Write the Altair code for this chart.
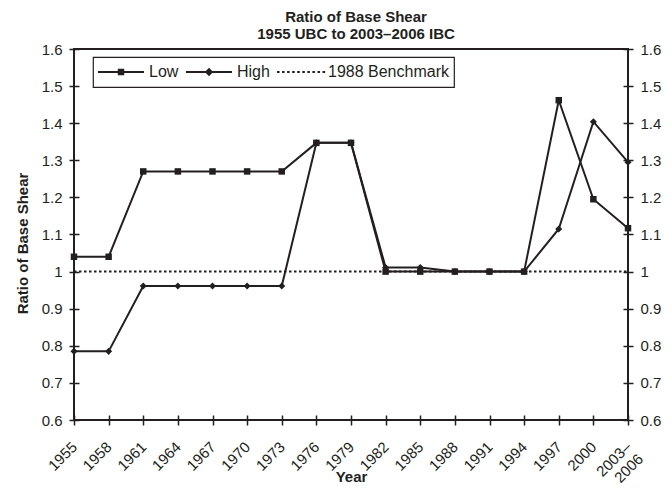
import altair as alt
import pandas as pd

# ---- data ----
years = ["1955", "1958", "1961", "1964", "1967", "1970", "1973", "1976", "1979",
         "1982", "1985", "1988", "1991", "1994", "1997", "2000", "2003–2006"]
low = [1.04, 1.04, 1.27, 1.27, 1.27, 1.27, 1.27, 1.347, 1.347,
       1.0, 1.0, 1.0, 1.0, 1.0, 1.462, 1.195, 1.117]
high = [0.785, 0.785, 0.961, 0.961, 0.961, 0.961, 0.961, 1.347, 1.347,
        1.011, 1.011, 1.0, 1.0, 1.0, 1.115, 1.404, 1.295]
benchmark = [1.0, 1.0, 1.0, 1.0, 1.0, 1.0, 1.0, 1.0, 1.0,
             1.0, 1.0, 1.0, 1.0, 1.0, 1.0, 1.0, 1.0]
series_names = ["Low", "High", "1988 Benchmark"]
y_ticks = [0.6, 0.7, 0.8, 0.9, 1.0, 1.1, 1.2, 1.3, 1.4, 1.5, 1.6]
title_lines = ["Ratio of Base Shear", "1955 UBC to 2003–2006 IBC"]

rows = []
for name, vals in zip(series_names, [low, high, benchmark]):
    for yr, v in zip(years, vals):
        rows.append({"Year": yr, "Series": name, "Ratio": v})
df = pd.DataFrame(rows)
df_low = df[df.Series == "Low"]
df_high = df[df.Series == "High"]
df_bench = df[df.Series == "1988 Benchmark"]

INK = "#231f20"
FONT = "Liberation Sans"

x_enc = alt.X(
    "Year:O",
    sort=years,
    scale=alt.Scale(type="point", padding=0),
    axis=alt.Axis(
        title="Year",
        labelAngle=-45,
        labelAlign="right",
        labelBaseline="middle",
        labelPadding=19,
        labelFontSize=15,
        labelExpr="datum.value == '2003–2006' ? ['2003–', '2006'] : datum.value",
        labelLineHeight=17,
        tickSize=10,
        offset=-5,
        titleFontSize=15,
        titleFontWeight="bold",
        titleBaseline="alphabetic",
        titleY=66,
    ),
)

y_scale = alt.Scale(domain=[0.6, 1.6], nice=False, zero=False)

left_axis = alt.Axis(
    orient="left",
    values=y_ticks,
    format=".1~f",
    tickSize=10,
    offset=-5,
    labelPadding=7,
    labelFontSize=15,
    title="Ratio of Base Shear",
    titleFontSize=15,
    titleFontWeight="bold",
    titlePadding=11,
    titleY=194,
)
right_axis = alt.Axis(
    orient="right",
    values=y_ticks,
    format=".1~f",
    tickSize=10,
    offset=-5,
    labelPadding=7,
    labelFontSize=15,
    title=None,
)

bench_layer = alt.Chart(df_bench).mark_line(
    color=INK, strokeWidth=2, strokeDash=[2.5, 2.5]
).encode(x=x_enc, y=alt.Y("Ratio:Q", scale=y_scale, axis=left_axis))

low_line = alt.Chart(df_low).mark_line(color=INK, strokeWidth=2).encode(
    x=x_enc, y=alt.Y("Ratio:Q", scale=y_scale, axis=right_axis)
)
high_line = alt.Chart(df_high).mark_line(color=INK, strokeWidth=2).encode(
    x=x_enc, y=alt.Y("Ratio:Q", scale=y_scale, axis=None)
)
low_pts = alt.Chart(df_low).mark_square(color=INK, size=42, opacity=1).encode(
    x=x_enc, y=alt.Y("Ratio:Q", scale=y_scale, axis=None)
)
high_pts = alt.Chart(df_high).mark_point(
    shape="diamond", filled=True, color=INK, size=50, opacity=1
).encode(x=x_enc, y=alt.Y("Ratio:Q", scale=y_scale, axis=None))

# legend symbols: line + marker drawn as filled custom paths in a [-1, 1] box
LW = 0.045  # half line thickness in symbol units
line_path = f"M-1,{-LW}H1V{LW}H-1Z"
square_path = line_path + "M-0.14,-0.14H0.14V0.14H-0.14Z"
diamond_path = line_path + "M0,-0.18L0.18,0L0,0.18L-0.18,0Z"
dash_path = "".join(
    f"M{-1 + i * 0.22:.2f},{-LW}H{-1 + i * 0.22 + 0.11:.2f}V{LW}H{-1 + i * 0.22:.2f}Z"
    for i in range(10)
)
legend_paths = [square_path, diamond_path, dash_path]

legend_layer = alt.Chart(df).mark_point(filled=True, color=INK, opacity=0).encode(
    x=x_enc,
    y=alt.Y("Ratio:Q", scale=y_scale, axis=None),
    shape=alt.Shape(
        "Series:N",
        scale=alt.Scale(domain=series_names, range=legend_paths),
        legend=alt.Legend(
            title=None,
            orient="none",
            legendX=19,
            legendY=8,
            direction="horizontal",
            columns=3,
            symbolSize=2116,
            symbolFillColor=INK,
            symbolStrokeWidth=0,
            symbolOpacity=1,
            clipHeight=20,
            labelFontSize=16,
            labelFont=FONT,
            labelColor=INK,
            labelOffset=5,
            columnPadding=7,
            padding=5,
            strokeColor=INK,
        ),
    ),
)

chart = (
    alt.layer(bench_layer, low_line, high_line, low_pts, high_pts, legend_layer)
    .resolve_axis(y="independent")
    .properties(
        width=554,
        height=371,
        autosize=alt.AutoSizeParams(type="none"),
        padding={"left": 66, "top": 41, "right": 36, "bottom": 64},
        title=alt.TitleParams(
            title_lines,
            font=FONT,
            fontSize=15,
            fontWeight="bold",
            color=INK,
            anchor="middle",
            frame="group",
            offset=0,
            lineHeight=17,
            dx=5,
        ),
    )
    .configure_view(stroke=INK, strokeWidth=2)
    .configure_axis(
        grid=False,
        domain=False,
        tickColor=INK,
        tickWidth=1.5,
        labelColor=INK,
        titleColor=INK,
        labelFont=FONT,
        titleFont=FONT,
    )
    .configure_legend(strokeWidth=1.2)
)

chart.save("out.html", embed_options={"renderer": "svg", "actions": False})
